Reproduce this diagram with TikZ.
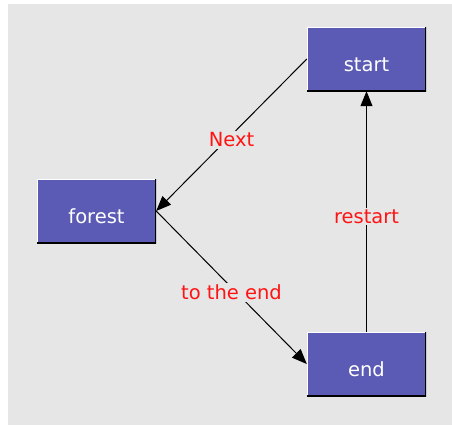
\documentclass[tikz,border=0pt]{standalone}
\usepackage{fontspec}
\setmainfont{DejaVu Sans}
\usepackage{tikz}
\usetikzlibrary{positioning, arrows.meta}
\definecolor{BoxBlue}{RGB}{91,91,181}
\definecolor{PanelGray}{RGB}{230,230,230}
\definecolor{LabelRed}{RGB}{255,20,20}

\begin{document}
\begin{tikzpicture}[x=1pt, y=-1pt]
  \tikzstyle{state}=[fill=BoxBlue, text=white, minimum width=119pt, minimum height=64pt,
  inner sep=0pt, text height=25pt, text depth=0pt, font=\fontsize{19.5}{21}\selectfont,
  path picture={
    \draw[white, line width=2pt] (path picture bounding box.south west)
      -- (path picture bounding box.north west) -- (path picture bounding box.north east);
    \draw[black, line width=3pt] (path picture bounding box.north east)
      -- (path picture bounding box.south east) -- (path picture bounding box.south west);
  }]
  \tikzstyle{trans}=[draw, line width=1pt, -{Triangle[length=15pt, width=12pt]}]
  \tikzstyle{tlabel}=[fill=PanelGray, text=LabelRed, inner sep=2pt, yshift=-5pt,
  font=\fontsize{19.5}{21}\selectfont]

  \useasboundingbox (0,0) rectangle (452,426);
  \fill[PanelGray] (8,4) rectangle (452,425);

  \node (start) at (366.5,59) [state] {start};
  \node (forest) at (96.5,211) [state] {forest};
  \node (end) at (366.5,364) [state] {end};

  \draw[trans] (start.west) -- node[tlabel] {Next} (forest.east);
  \draw[trans] (forest.east) -- node[tlabel] {to the end} (end.west);
  \draw[trans] (end.north) -- node[tlabel] {restart} (start.south);

\end{tikzpicture}
\end{document}
